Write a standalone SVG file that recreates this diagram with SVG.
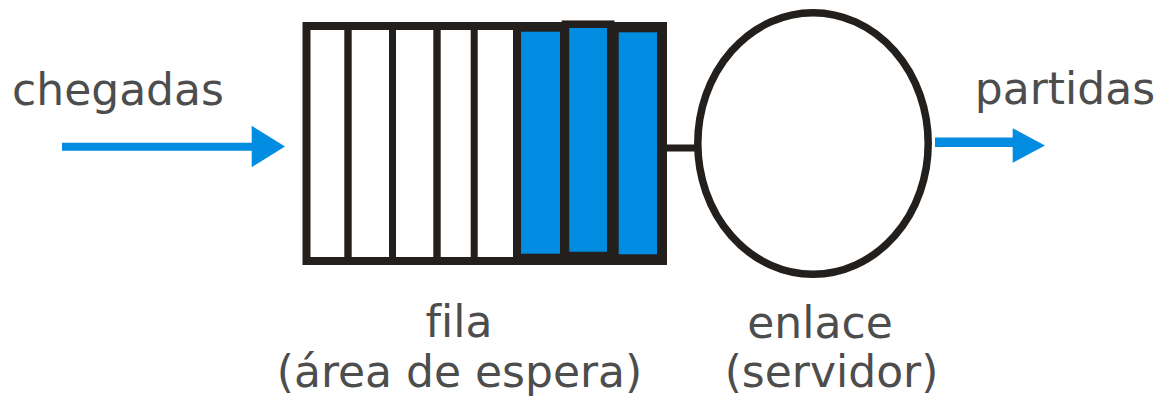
<svg xmlns="http://www.w3.org/2000/svg" width="1165" height="406" viewBox="0 0 1165 406">
<style>
.lbl{font-family:"DejaVu Sans","Liberation Sans",sans-serif;font-size:44px;fill:#4d4d4d;text-anchor:middle;font-variant-ligatures:none;font-feature-settings:"liga" 0}
.blk{fill:#231f1c}
.blue{fill:#008ce0}
.bline{stroke:#008ce0;fill:none}
</style>
<rect width="1165" height="406" fill="#ffffff"/>
<g id="connectors">
  <line class="bline" x1="62" y1="146.7" x2="253" y2="146.7" stroke-width="8"/>
  <polygon class="blue" points="251.7,125.7 285,146.5 251.7,167.3"/>
  <line x1="665" y1="148" x2="699" y2="148" stroke="#231f1c" stroke-width="7"/>
  <line class="bline" x1="935" y1="142.3" x2="1014" y2="142.3" stroke-width="9.5"/>
  <polygon class="blue" points="1012.7,128.3 1045,145.5 1012.7,162.7"/>
</g>
<g id="queue">
  <rect x="306.5" y="26" width="356.5" height="235" fill="#ffffff" stroke="#231f1c" stroke-width="8"/>
  <rect class="blk" x="344.3" y="26" width="7.4" height="235"/>
  <rect class="blk" x="389" y="26" width="7" height="235"/>
  <rect class="blk" x="433.3" y="26" width="7.4" height="235"/>
  <rect class="blk" x="470.7" y="26" width="7" height="235"/>
  <rect class="blk" x="513" y="26" width="150" height="235"/>
  <rect class="blue" x="521" y="31.7" width="39" height="222"/>
  <rect class="blue" x="618.7" y="32.3" width="38.3" height="222"/>
  <rect class="blue" x="565.5" y="24.2" width="45.2" height="231.3" stroke="#231f1c" stroke-width="7.5"/>
</g>
<g id="server">
  <ellipse cx="813" cy="143.5" rx="115.2" ry="130.8" fill="#ffffff" stroke="#231f1c" stroke-width="7.5"/>
</g>
<g id="label-chegadas"><text class="lbl" x="118" y="105">chegadas</text></g>
<g id="label-partidas"><text class="lbl" x="1065" y="103.5">partidas</text></g>
<g id="label-fila">
  <text class="lbl" x="459" y="337">fila</text>
  <text class="lbl" x="459.5" y="387">(área de espera)</text>
</g>
<g id="label-enlace">
  <text class="lbl" x="820" y="338">enlace</text>
  <text class="lbl" x="831.5" y="387">(servidor)</text>
</g>
</svg>
